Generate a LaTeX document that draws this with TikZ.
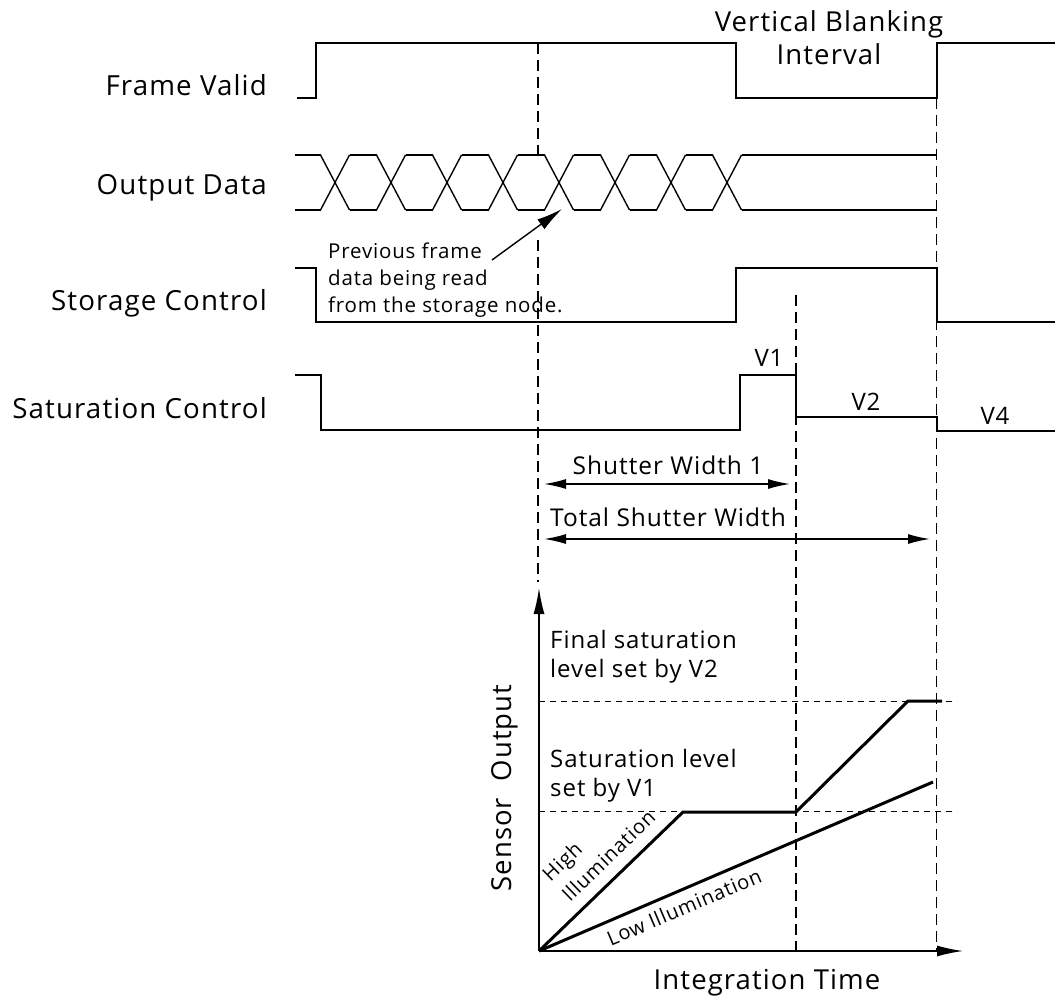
\documentclass[tikz,border=0pt]{standalone}
\usepackage{fontspec}
\setmainfont{Open Sans}[LetterSpace=4]
\usetikzlibrary{arrows.meta}
\tikzset{
  sig/.style={line width=1.4pt, line join=miter},
  vdash/.style={line width=1.3pt, dash pattern=on 11pt off 6pt},
  hdot/.style={line width=1pt, dash pattern=on 6pt off 5pt},
  curve/.style={line width=3pt, line join=miter},
  axis/.style={line width=1.5pt, -{Latex[length=26pt,width=11pt]}},
  dim/.style={line width=1.5pt, {Latex[length=22pt,width=10pt]}-{Latex[length=22pt,width=10pt]}},
  signame/.style={anchor=east, inner sep=0pt, font=\fontsize{27.7}{32}\selectfont},
  bigtxt/.style={inner sep=0pt, font=\fontsize{27.5}{33}\selectfont},
  swtxt/.style={inner sep=0pt, font=\fontsize{24.5}{30}\selectfont},
  vtxt/.style={inner sep=0pt, font=\fontsize{24}{28}\selectfont},
  gtxt/.style={anchor=west, inner sep=0pt, align=left, font=\fontsize{24}{29}\selectfont},
  rtxt/.style={inner sep=0pt, font=\fontsize{20}{28}\selectfont},
  note/.style={anchor=north west, inner sep=0pt, align=left, font=\fontsize{20.5}{26.6}\selectfont}
}
\begin{document}
\begin{tikzpicture}[x=1pt,y=-1pt]
\useasboundingbox (0,0) rectangle (1059,1003);

% signal names
\node[signame] (fv) at (267,85) {Frame Valid};
\node[signame] (od) at (267,188) {Output Data};
\node[signame] (sc) at (267,303) {Storage Control};
\node[signame] (satc) at (267,408) {Saturation Control};
\node[bigtxt, align=center] (vbi) at (829,38) {Vertical Blanking\\Interval};

% dashed markers
\draw[vdash] (538,43) -- (538,155);
\draw[vdash] (538,240) -- (538,582);
\draw[vdash] (796,295) -- (796,951);
\draw[vdash] (936.5,98) -- (936.5,951);

% Frame Valid
\draw[sig] (297,98) -- (316,98) -- (316,43) -- (736,43) -- (736,98) -- (937,98) -- (937,43) -- (1055,43);

% Output Data
\draw[sig] (295,155) -- (320.5,155) (295,210) -- (320.5,210);
\foreach \i in {0,...,7}{
  \pgfmathsetmacro{\c}{335+56*\i}
  \draw[sig] (\c-14.5,155) -- (\c+14.5,210) (\c-14.5,210) -- (\c+14.5,155);
}
\foreach \i in {0,...,6}{
  \pgfmathsetmacro{\c}{335+56*\i}
  \draw[sig] (\c+14.5,155) -- (\c+41.5,155) (\c+14.5,210) -- (\c+41.5,210);
}
\draw[sig] (741.5,155) -- (937,155) (741.5,210) -- (937,210);

% note
\node[note] (nt) at (328,243) {Previous frame\\data being read\\from the storage node.};
\coordinate (ntail) at (492,260);
\coordinate (nhead) at (562,209);
\draw[line width=1.4pt, -{Latex[length=26pt,width=12pt]}] (ntail) -- (nhead);

% Storage Control
\draw[sig] (295,268) -- (316,268) -- (316,322) -- (736,322) -- (736,268) -- (937,268) -- (937,322) -- (1055,322);

% Saturation Control
\draw[sig] (295,375) -- (321,375) -- (321,430) -- (740,430) -- (740,375) -- (796,375) -- (796,417) -- (937,417) -- (937,431) -- (1055,431);
\node[vtxt] (v1) at (769,358) {V1};
\node[vtxt] (v2) at (866,402) {V2};
\node[vtxt] (v4) at (995,416) {V4};

% shutter widths
\node[swtxt] (sw1) at (668,465) {Shutter Width 1};
\coordinate (s1a) at (544,484);
\coordinate (s1b) at (790,484);
\draw[dim] (s1a) -- (s1b);
\node[swtxt] (tsw) at (668,517) {Total Shutter Width};
\coordinate (s2a) at (544,539);
\coordinate (s2b) at (930,539);
\draw[dim] (s2a) -- (s2b);

% graph
\coordinate (O) at (539,951);
\coordinate (ytop) at (539,588);
\coordinate (xend) at (963,951);
\draw[hdot] (539,701) -- (957,701);
\draw[hdot] (539,811) -- (957,811);
\draw[axis] (O) -- (ytop);
\draw[axis] (O) -- (xend);
\draw[curve] (O) -- (683,812) -- (796,812) -- (908,701) -- (942,701);
\draw[curve] (O) -- (933,782);

\node[gtxt] (fsl) at (550,657) {Final saturation\\level set by V2};
\node[gtxt] (slv) at (550,776) {Saturation level\\set by V1};
\node[rtxt, rotate=44, align=left, anchor=base west] (hi) at (570,903) {High\\Illumination};
\node[rtxt, rotate=23] (lo) at (684,907) {Low Illumination};
\node[bigtxt, rotate=90] (so) at (505,788) {Sensor\ \ Output};
\node[bigtxt] (it) at (767,983) {Integration Time};
\end{tikzpicture}
\end{document}
